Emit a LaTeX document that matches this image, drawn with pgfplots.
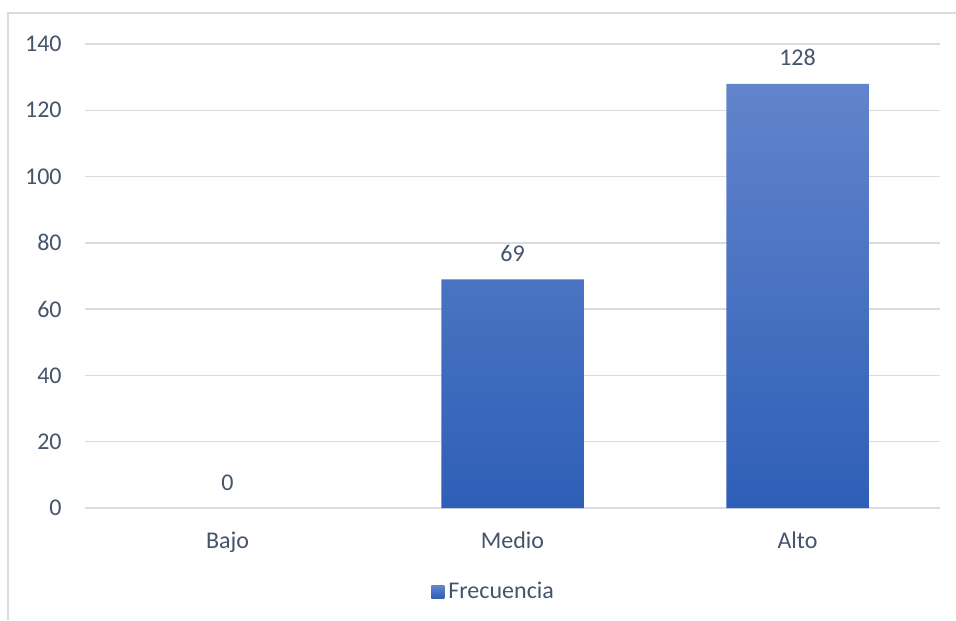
\documentclass[border=0pt]{standalone}
\usepackage{pgfplots}
\pgfplotsset{compat=1.18}
\usepackage{fontspec}
\setmainfont{Carlito}
\definecolor{txt}{RGB}{68,84,106}
\definecolor{gridc}{RGB}{217,220,226}
\definecolor{bartop}{RGB}{98,132,204}
\definecolor{barbot}{RGB}{46,95,183}
\newcommand{\lblfont}{\fontsize{12}{14}\selectfont}
\begin{document}
\begin{tikzpicture}
% canvas: 956 x 620 units of 0.5pt
\path[use as bounding box] (0,0) rectangle (478pt,-310pt);
% chart frame (top and left edges)
\draw[gridc, line width=0.75pt] (4pt,-310pt) -- (4pt,-6.5pt) -- (478pt,-6.5pt);
\begin{axis}[
  at={(42.5pt,-254pt)}, anchor=south west,
  scale only axis, width=427.5pt, height=232pt,
  xmin=-0.5, xmax=2.5, ymin=0, ymax=140,
  enlargelimits=false,
  xtick={0,1,2}, xticklabels={Bajo,Medio,Alto},
  ytick={0,20,...,140},
  ymajorgrids, grid style={gridc, line width=0.75pt},
  axis line style={draw=none},
  major tick length=0pt,
  /pgf/number format/assume math mode=true,
  tick label style={font=\lblfont, text=txt},
  yticklabel style={anchor=east, inner sep=0pt, xshift=-11.5pt},
  xticklabel style={anchor=base, inner sep=0pt, yshift=-20pt},
  ybar, bar width=0.5, bar shift=0pt,
  nodes near coords,
  nodes near coords style={anchor=base, inner sep=0pt, yshift=9pt, font=\lblfont, text=txt},
  legend style={at={(0.4047,-0.181)}, anchor=west, draw=none, fill=none,
    font=\lblfont, text=txt, inner sep=0pt},
  legend image code/.code={\shade[top color=bartop, bottom color=barbot]
    (-1pt,-3.25pt) rectangle (5.5pt,3.25pt);},
]
% Bajo has frequency 0: only its value label shows
\addplot[draw=none, fill=none, forget plot] coordinates {(0,0)};
\addplot[draw=none, top color=bartop, bottom color=barbot]
  coordinates {(1,69) (2,128)};
\addlegendentry{Frecuencia}
\end{axis}
\end{tikzpicture}
\end{document}
